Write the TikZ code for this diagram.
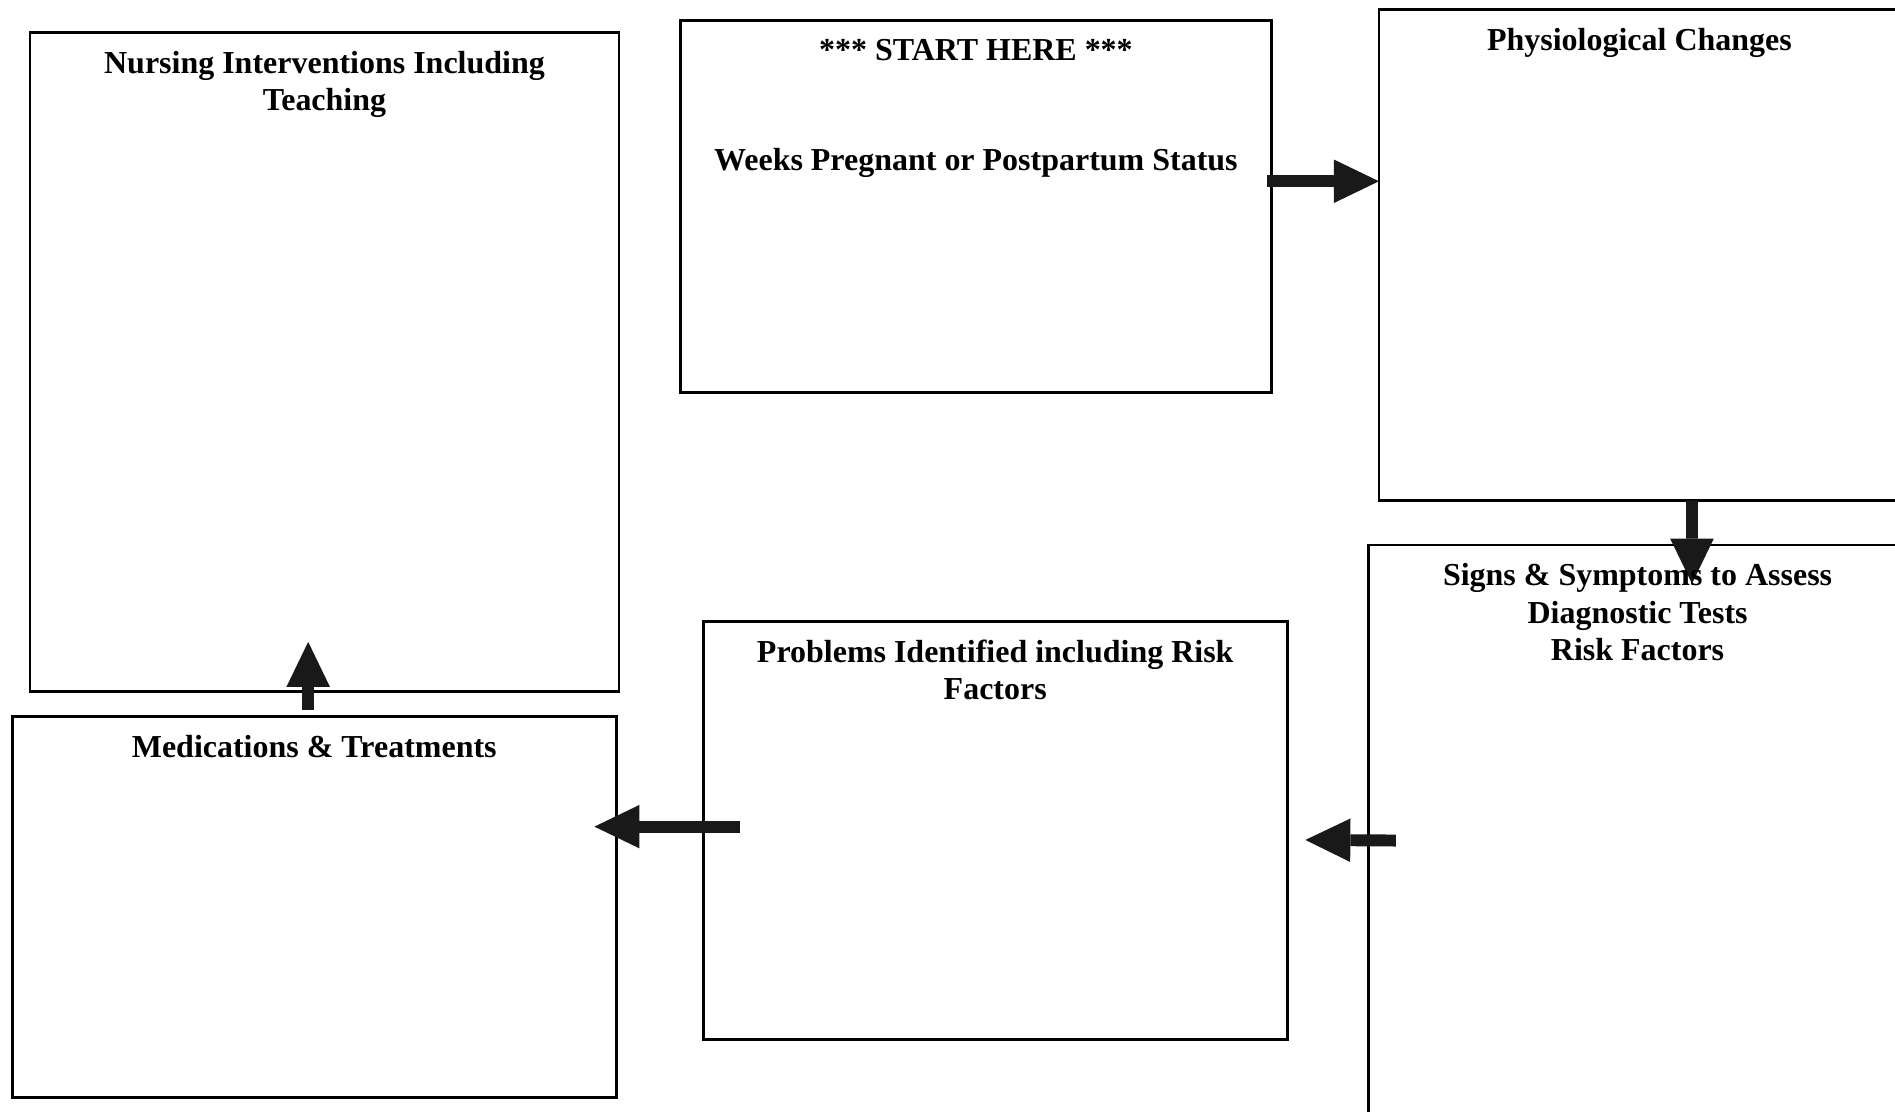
\documentclass[tikz,border=0pt]{standalone}
\usepackage{fontspec}
\setmainfont{Liberation Serif}
\usetikzlibrary{arrows.meta,positioning}

\begin{document}
\begin{tikzpicture}[x=0.12086mm, y=-0.12086mm,
  box/.style={draw, line width=0.8pt, inner sep=0, outer sep=0},
  boxtitle/.style={inner sep=0, align=center, font=\bfseries\fontsize{9.1}{10.6}\selectfont},
  bigarrow/.style={line width=3.4pt, draw=black!90,
    -{Triangle[length=4.5mm, width=4.35mm, line width=0pt, fill=black!90]}}]
\useasboundingbox (0,0) rectangle (1568,920);
\fill[white] (0,0) rectangle (1568,920);

% the six boxes
\node[box, minimum width=58.9mm, minimum height=65.9mm] (nursing) at (268.5,299.5) {};
\node[box, minimum width=59.1mm, minimum height=37.2mm] (start) at (807.5,171) {};
\node[box, minimum width=52.1mm, minimum height=49.1mm] (phys) at (1356.5,211) {};
\node[box, minimum width=53.9mm, minimum height=59.1mm] (signs) at (1355,695.5) {};
\node[box, minimum width=58.4mm, minimum height=41.8mm] (probs) at (823.5,687) {};
\node[box, minimum width=60.4mm, minimum height=38.1mm] (meds) at (260,750.5) {};

% titles
\node[boxtitle, below=1.8mm of nursing.north] (nursingtitle) {Nursing Interventions Including\\Teaching};
\node[boxtitle, below=1.8mm of start.north] (starttitle) {*** START HERE ***\\[20.7pt]Weeks Pregnant or Postpartum Status};
\node[boxtitle, below=1.8mm of phys.north] (phystitle) {Physiological Changes};
\node[boxtitle, below=1.8mm of probs.north] (probstitle) {Problems Identified including Risk\\Factors};
\node[boxtitle, below=1.8mm of meds.north] (medstitle) {Medications \& Treatments};

% arrows
\draw[bigarrow] ([shift={(-4,-21)}]start.east) -- ([shift={(0,-61)}]phys.west);
\draw[bigarrow] ([shift={(43.5,0)}]phys.south) -- ([shift={(45,32)}]signs.north);
\draw[bigarrow] ([shift={(23,0)}]signs.west) -- ([shift={(15,8)}]probs.east);
\draw[bigarrow] ([shift={(30,-3)}]probs.west) -- ([shift={(-18,-66.5)}]meds.east);
\draw[bigarrow] ([shift={(-5,-5)}]meds.north) -- ([shift={(-13.5,-41)}]nursing.south);

\node[boxtitle, below=1.8mm of signs.north] (signstitle) {Signs \& Symptoms to Assess\\Diagnostic Tests\\Risk Factors};
\end{tikzpicture}
\end{document}
